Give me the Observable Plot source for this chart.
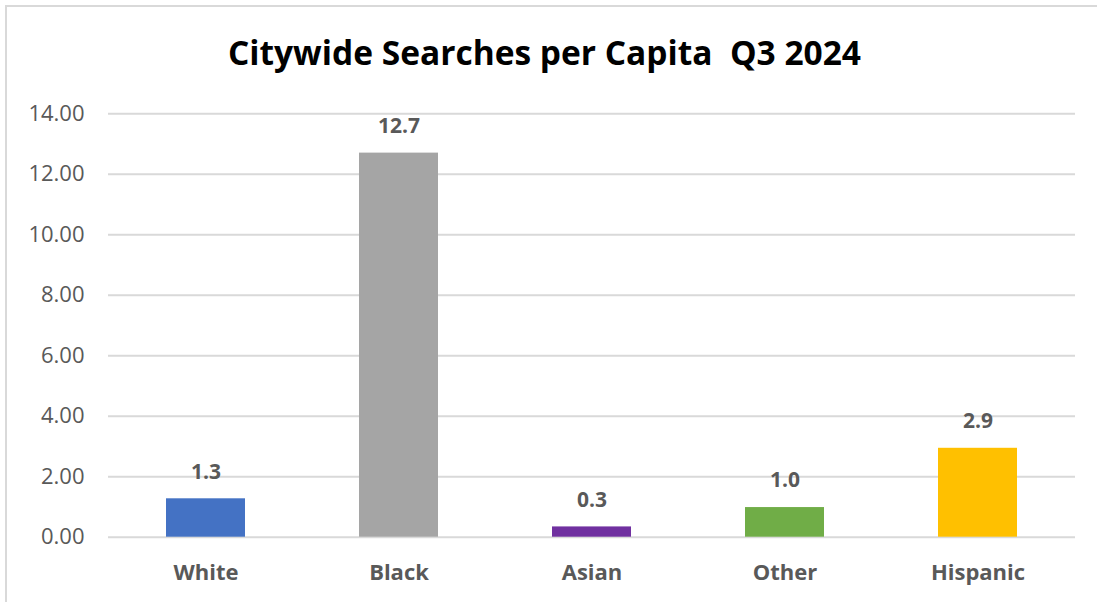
<!DOCTYPE html>
<html><head><meta charset="utf-8">
<script src="https://cdn.jsdelivr.net/npm/d3@7"></script>
<script src="https://cdn.jsdelivr.net/npm/@observablehq/plot@0.6"></script>
<style>
html,body{margin:0;padding:0;background:#fff;}
#wrap{position:relative;width:1097px;height:602px;overflow:hidden;background:#fff;}
#frame{position:absolute;left:5px;top:5px;width:1200px;height:700px;border-left:2px solid #d9d9d9;border-top:2px solid #d9d9d9;}
#title{position:absolute;left:-4px;top:32px;width:1097px;line-height:40px;text-align:center;font-family:'Open Sans',sans-serif;font-weight:bold;font-size:33.5px;color:#000;white-space:pre;}
#chart{position:absolute;left:0;top:90px;}
</style>
</head><body>
<div id="wrap">
<div id="frame"></div>
<div id="title">Citywide Searches per Capita  Q3 2024</div>
<div id="chart"></div>
</div>
<script>
const categories = ["White","Black","Asian","Other","Hispanic"];
const values = [1.27, 12.70, 0.34, 0.98, 2.94];
const colors = ["#4472C4","#A5A5A5","#7030A0","#70AD47","#FFC000"];
const yTicks = [0,2,4,6,8,10,12,14];
const data = categories.map((c,i)=>({category:c, value:values[i]}));

const chart = Plot.plot({
  width:1097, height:512,
  marginTop:23.3, marginBottom:65.3, marginLeft:108, marginRight:22,
  style:{fontFamily:"'Open Sans', sans-serif", background:"transparent"},
  x:{domain:categories, paddingInner:0.59, paddingOuter:0.295, label:null},
  y:{domain:[0,14], label:null},
  color:{domain:categories, range:colors},
  marks:[
    Plot.ruleY(yTicks,{stroke:"#d9d9d9", strokeWidth:2}),
    Plot.barY(data,{x:"category", y:"value", fill:"category"}),
    Plot.text(data,{x:"category", y:"value", text:d=>d.value.toFixed(1), dy:-27, fontSize:21, fontWeight:"bold", fill:"#595959"}),
    Plot.axisY({ticks:yTicks, tickSize:0, tickPadding:24, tickFormat:d=>d.toFixed(2), fontSize:22, color:"#595959", label:null}),
    Plot.axisX({tickSize:0, tickPadding:27, fontSize:22, fontWeight:"bold", color:"#595959", label:null})
  ]
});
document.getElementById("chart").appendChild(chart);
</script>
</body></html>
